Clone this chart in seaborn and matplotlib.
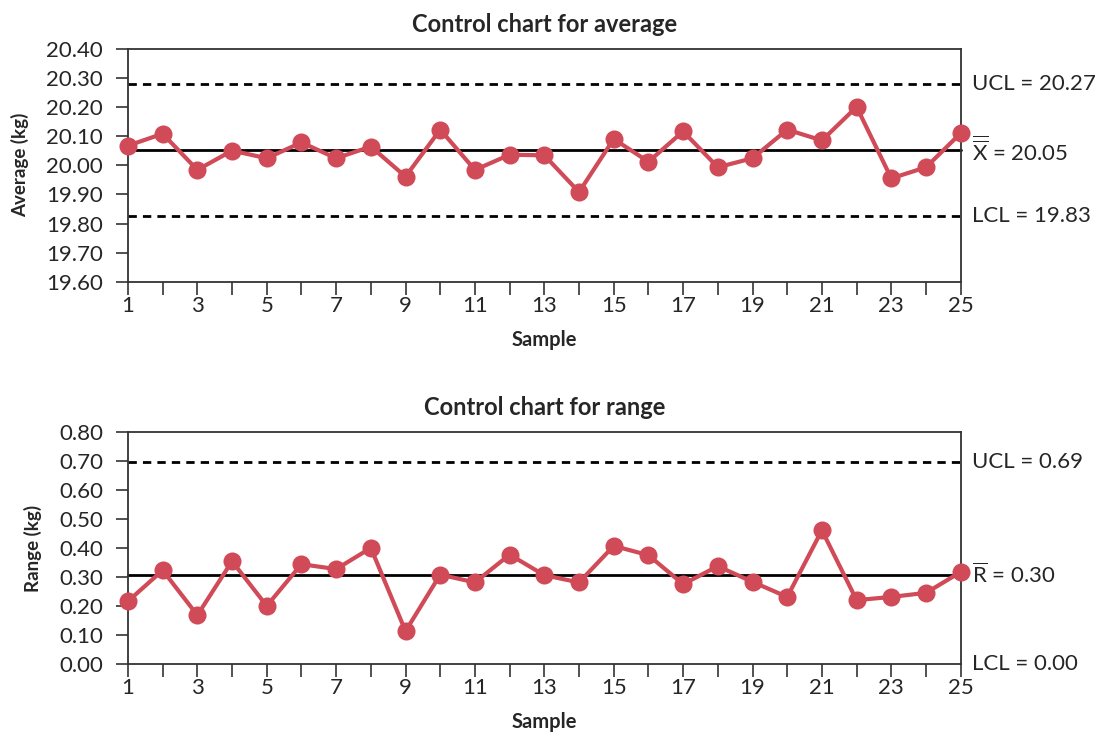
import numpy as np
import pandas as pd
import matplotlib
matplotlib.use("Agg")
import matplotlib.pyplot as plt
import seaborn as sns

samples = list(range(1, 26))
averages = [20.067, 20.108, 19.984, 20.050, 20.024, 20.078, 20.024, 20.064, 19.961, 20.122,
            19.984, 20.036, 20.034, 19.908, 20.090, 20.012, 20.116, 19.993, 20.024, 20.122,
            20.085, 20.200, 19.955, 19.993, 20.110]
ranges = [0.216, 0.323, 0.168, 0.354, 0.200, 0.344, 0.327, 0.400, 0.113, 0.308,
          0.281, 0.377, 0.306, 0.281, 0.407, 0.375, 0.275, 0.337, 0.283, 0.231,
          0.461, 0.220, 0.231, 0.245, 0.317]
avg_limits = [20.277, 20.052, 19.825]   # UCL, center, LCL
avg_labels = ["UCL = 20.27", r"$\overline{\overline{\mathrm{X}}}$ = 20.05", "LCL = 19.83"]
rng_limits = [0.697, 0.306, 0.0]
rng_labels = ["UCL = 0.69", r"$\overline{\mathrm{R}}$ = 0.30", "LCL = 0.00"]
avg_yticks = [19.6, 19.7, 19.8, 19.9, 20.0, 20.1, 20.2, 20.3, 20.4]
rng_yticks = [0.0, 0.1, 0.2, 0.3, 0.4, 0.5, 0.6, 0.7, 0.8]

sns.set_theme(style="ticks")
plt.rcParams['font.family'] = ['Lato', 'DejaVu Sans']
plt.rcParams['mathtext.fontset'] = 'custom'
plt.rcParams['mathtext.rm'] = 'Lato'
plt.rcParams['mathtext.it'] = 'Lato:italic'
plt.rcParams['mathtext.bf'] = 'Lato:bold'

RED = "#D04A57"
fig = plt.figure(figsize=(11.03, 7.36), dpi=100)
ax1 = fig.add_axes([0.116, 0.617, 0.755, 0.317])
ax2 = fig.add_axes([0.116, 0.098, 0.755, 0.315])

df = pd.DataFrame({"Sample": samples, "Average": averages, "Range": ranges})

def draw(ax, ycol, limits, labels, yticks, title, ylabel, fmt):
    ax.axhline(limits[0], color="black", lw=2, ls=(0, (3, 2.2)), zorder=1)
    ax.axhline(limits[1], color="black", lw=2, zorder=1)
    if limits[2] > yticks[0]:
        ax.axhline(limits[2], color="black", lw=2, ls=(0, (3, 2.2)), zorder=1)
    sns.lineplot(data=df, x="Sample", y=ycol, ax=ax, color=RED, lw=3,
                 marker="o", markersize=13, markeredgewidth=0, zorder=3, clip_on=False)
    for l in ax.lines:
        l.set_clip_on(False)
    ax.set_xlim(1, 25)
    ax.set_ylim(yticks[0], yticks[-1])
    ax.set_xticks(samples)
    ax.set_xticklabels([str(s) if s % 2 == 1 else "" for s in samples])
    ax.set_yticks(yticks)
    ax.set_yticklabels([fmt.format(v) for v in yticks])
    ax.tick_params(axis="both", direction="out", length=9, width=1.2, color="#333333",
                   labelsize=16)
    ax.tick_params(axis="y", pad=9)
    ax.tick_params(axis="x", pad=1)
    for sp in ax.spines.values():
        sp.set_color("#333333")
        sp.set_linewidth(1.3)
        sp.set_visible(True)
    ax.set_title(title, fontsize=17, fontweight="bold", pad=12)
    ax.set_ylabel(ylabel, fontsize=13.5, fontweight="bold", labelpad=12)
    ax.set_xlabel("Sample", fontsize=14.5, fontweight="bold", labelpad=10)
    for v, t in zip(limits, labels):
        ax.annotate(t, xy=(1, v), xycoords=("axes fraction", "data"),
                    xytext=(8, 0), textcoords="offset points",
                    va="center", ha="left", fontsize=16, annotation_clip=False)

draw(ax1, "Average", avg_limits, avg_labels, avg_yticks,
     "Control chart for average", "Average (kg)", "{:.2f}")
draw(ax2, "Range", rng_limits, rng_labels, rng_yticks,
     "Control chart for range", "Range (kg)", "{:.2f}")

fig.savefig("out.png", dpi=100)
